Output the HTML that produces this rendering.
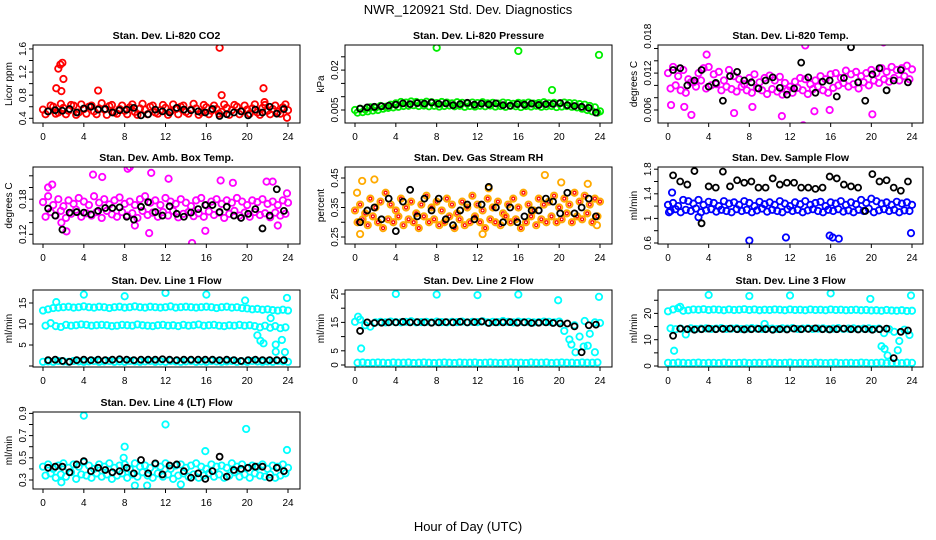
<!DOCTYPE html>
<html><head><meta charset="utf-8">
<style>
html,body{margin:0;padding:0;background:#fff;}
svg{display:block;font-family:"Liberation Sans",Arial,sans-serif;}
</style></head><body>
<svg id="c" width="936" height="540" viewBox="0 0 936 540">
<text x="468" y="14" text-anchor="middle" font-size="13">NWR_120921  Std. Dev. Diagnostics</text>
<text x="468" y="531" text-anchor="middle" font-size="13">Hour of Day (UTC)</text>
</svg>
<script>
const hoursA = [0,0.5,1,1.5,2,2.5,3,3.5,4,4.5,5,5.5,6,6.5,7,7.5,8,8.5,9,9.5,10,10.5,11,11.5,12,12.5,13,13.5,14,14.5,15,15.5,16,16.5,17,17.5,18,18.5,19,19.5,20,20.5,21,21.5,22,22.5,23,23.5,24];
const hoursB = [0.25,0.75,1.25,1.75,2.25,2.75,3.25,3.75,4.25,4.75,5.25,5.75,6.25,6.75,7.25,7.75,8.25,8.75,9.25,9.75,10.25,10.75,11.25,11.75,12.25,12.75,13.25,13.75,14.25,14.75,15.25,15.75,16.25,16.75,17.25,17.75,18.25,18.75,19.25,19.75,20.25,20.75,21.25,21.75,22.25,22.75,23.25,23.75];
const hoursK = [0.5,1.2,1.9,2.6,3.3,4,4.7,5.4,6.1,6.8,7.5,8.2,8.9,9.6,10.3,11,11.7,12.4,13.1,13.8,14.5,15.2,15.9,16.6,17.3,18,18.7,19.4,20.1,20.8,21.5,22.2,22.9,23.6];
const xTicks = [0,4,8,12,16,20,24];

const co2A=[0.55,0.52,0.6,0.5,0.58,0.53,0.62,0.5,0.56,0.6,0.52,0.57,0.55,0.61,0.5,0.56,0.53,0.59,0.51,0.57,0.55,0.6,0.5,0.54,0.58,0.52,0.56,0.6,0.51,0.55,0.57,0.5,0.59,0.53,0.56,0.51,0.58,0.54,0.6,0.52,0.55,0.57,0.5,0.58,0.53,0.56,0.51,0.59,0.54];
const co2B=[0.47,0.62,0.48,0.65,0.47,0.63,0.46,0.64,0.48,0.62,0.47,0.66,0.46,0.63,0.48,0.62,0.47,0.64,0.46,0.65,0.47,0.62,0.48,0.63,0.46,0.64,0.47,0.62,0.48,0.65,0.46,0.63,0.47,0.62,0.48,0.64,0.46,0.63,0.47,0.62,0.48,0.64,0.46,0.63,0.47,0.62,0.48,0.64];
const co2OutX=[1.3,1.5,1.7,1.9,2.0,1.8,5.4,17.3,17.5,21.6,21.7,23.9];
const co2OutY=[0.92,1.26,1.33,1.36,1.08,0.87,0.88,1.62,0.8,0.92,0.68,0.41];
const co2K=[0.52,0.54,0.53,0.56,0.5,0.57,0.6,0.55,0.56,0.5,0.54,0.55,0.58,0.45,0.47,0.55,0.52,0.5,0.58,0.55,0.54,0.52,0.5,0.56,0.44,0.47,0.5,0.52,0.45,0.55,0.5,0.6,0.48,0.56];
const co2Ticks=[0.4,0.6,0.8,1.0,1.2,1.4,1.6], co2Labels=[0.4,0.8,1.2,1.6];
const prA=[0.005,0.0055,0.0052,0.006,0.0058,0.0065,0.0062,0.007,0.0075,0.008,0.0078,0.0082,0.008,0.0077,0.0081,0.0079,0.0076,0.008,0.0078,0.0075,0.0079,0.0077,0.0074,0.0078,0.0076,0.0079,0.0075,0.0077,0.0074,0.0078,0.0076,0.0073,0.0077,0.0075,0.0078,0.0074,0.0076,0.0079,0.0075,0.0077,0.0074,0.0078,0.0076,0.0075,0.0072,0.007,0.0065,0.006,0.0045];
const prB=[0.004,0.0042,0.0045,0.0048,0.005,0.0055,0.0058,0.006,0.0062,0.0065,0.0066,0.0068,0.0065,0.0067,0.0064,0.0066,0.0063,0.0065,0.0067,0.0064,0.0066,0.0062,0.0065,0.0063,0.0066,0.0064,0.0067,0.0063,0.0065,0.0062,0.0066,0.0064,0.0061,0.0065,0.0063,0.0066,0.0062,0.0064,0.0065,0.0061,0.0063,0.0065,0.0062,0.006,0.0055,0.005,0.0045,0.004];
const prOutX=[8.0,16.0,19.3,23.9];
const prOutY=[0.0284,0.0272,0.0125,0.0257];
const prK=[0.0055,0.006,0.0062,0.0064,0.0066,0.007,0.0075,0.0072,0.0076,0.0074,0.0078,0.0073,0.0075,0.0068,0.0072,0.0077,0.007,0.0074,0.0071,0.0075,0.0068,0.0066,0.0072,0.007,0.0074,0.0069,0.0072,0.0073,0.0076,0.0068,0.0065,0.0062,0.0058,0.004];
const prTicks=[0.005,0.010,0.015,0.020,0.025], prLabels=[0.005,0.020];
const tmA=[0.012,0.013,0.0115,0.0125,0.011,0.0105,0.012,0.0128,0.013,0.0118,0.0122,0.0108,0.0125,0.0115,0.011,0.0102,0.0112,0.0118,0.0105,0.0112,0.0116,0.0108,0.0114,0.0104,0.0098,0.0106,0.0112,0.011,0.0102,0.0108,0.0115,0.011,0.0118,0.012,0.0112,0.0124,0.0118,0.0122,0.0115,0.012,0.0125,0.012,0.0128,0.0122,0.013,0.0125,0.0128,0.0132,0.0126];
const tmB=[0.0095,0.01,0.0092,0.0088,0.0105,0.0098,0.0108,0.0095,0.01,0.0102,0.0092,0.0098,0.0094,0.009,0.0098,0.0092,0.0088,0.0096,0.0092,0.0086,0.0094,0.009,0.0085,0.0092,0.0088,0.0096,0.0092,0.0086,0.0094,0.0098,0.0092,0.0088,0.0096,0.01,0.0104,0.0098,0.0102,0.0095,0.0105,0.01,0.0108,0.0104,0.011,0.0106,0.0112,0.0108,0.0115,0.011];
const tmOutX=[0.3,1.6,2.3,3.8,6.5,8.3,11.2,13.3,13.5,15.9,17.3,20.1,21.2,22.3,14.4];
const tmOutY=[0.0068,0.0065,0.0052,0.015,0.0055,0.0065,0.005,0.0035,0.0165,0.006,0.018,0.0053,0.017,0.0178,0.0058];
const tmK=[0.0125,0.0128,0.01,0.0108,0.0125,0.0098,0.0104,0.0075,0.0115,0.0122,0.0108,0.0105,0.0095,0.0108,0.0113,0.0096,0.0085,0.0095,0.0137,0.0113,0.0088,0.0106,0.0108,0.0082,0.0112,0.0162,0.0105,0.0075,0.0118,0.0128,0.0092,0.0108,0.0125,0.0105];
const tmTicks=[0.006,0.008,0.010,0.012,0.014,0.016], tmLabels=[0.006,0.012,0.018];
const abA=[0.175,0.185,0.17,0.18,0.168,0.178,0.172,0.182,0.176,0.17,0.185,0.174,0.18,0.171,0.178,0.183,0.172,0.176,0.17,0.18,0.185,0.174,0.178,0.17,0.182,0.176,0.172,0.18,0.174,0.168,0.178,0.182,0.17,0.176,0.18,0.172,0.178,0.174,0.182,0.176,0.17,0.178,0.175,0.18,0.172,0.176,0.17,0.178,0.174];
const abB=[0.15,0.158,0.152,0.16,0.148,0.155,0.162,0.15,0.156,0.152,0.158,0.148,0.16,0.154,0.15,0.158,0.152,0.156,0.148,0.16,0.153,0.157,0.15,0.158,0.152,0.16,0.149,0.155,0.158,0.151,0.156,0.15,0.159,0.153,0.157,0.148,0.155,0.16,0.152,0.157,0.15,0.158,0.153,0.156,0.149,0.157,0.152,0.155];
const abOutX=[0.5,0.9,1.8,2.3,4.9,5.8,8.3,8.5,9.0,10.4,10.6,12.0,12.3,14.6,15.9,17.4,18.6,21.9,22.5,23.0,23.9];
const abOutY=[0.2,0.205,0.14,0.125,0.222,0.218,0.232,0.235,0.135,0.122,0.225,0.245,0.215,0.105,0.126,0.212,0.208,0.21,0.21,0.135,0.19];
const abK=[0.164,0.152,0.128,0.157,0.158,0.157,0.154,0.16,0.165,0.165,0.166,0.15,0.145,0.167,0.175,0.158,0.152,0.168,0.155,0.15,0.157,0.163,0.17,0.17,0.158,0.167,0.152,0.148,0.155,0.163,0.13,0.152,0.197,0.16];
const abTicks=[0.12,0.14,0.16,0.18,0.20,0.22], abLabels=[0.12,0.18];
const rhA=[0.34,0.36,0.33,0.38,0.35,0.37,0.4,0.36,0.34,0.38,0.35,0.37,0.33,0.36,0.39,0.35,0.37,0.34,0.38,0.36,0.33,0.37,0.35,0.39,0.36,0.34,0.38,0.35,0.37,0.33,0.36,0.38,0.35,0.4,0.36,0.34,0.38,0.36,0.37,0.39,0.35,0.38,0.36,0.4,0.37,0.39,0.36,0.38,0.37];
const rhB=[0.3,0.31,0.29,0.32,0.3,0.28,0.31,0.3,0.32,0.29,0.31,0.3,0.28,0.32,0.3,0.31,0.29,0.3,0.32,0.28,0.31,0.29,0.3,0.32,0.3,0.28,0.31,0.3,0.29,0.32,0.3,0.31,0.28,0.3,0.32,0.29,0.31,0.3,0.32,0.3,0.31,0.33,0.3,0.32,0.31,0.33,0.3,0.32];
const rhOutX=[0.2,0.5,0.7,1.9,12.5,13.1,18.6,20.2,22.8,23.7];
const rhOutY=[0.4,0.26,0.44,0.445,0.26,0.415,0.46,0.435,0.43,0.29];
const rhK=[0.3,0.34,0.35,0.31,0.38,0.27,0.37,0.41,0.32,0.38,0.34,0.38,0.31,0.29,0.34,0.36,0.31,0.36,0.42,0.35,0.3,0.35,0.3,0.32,0.34,0.34,0.38,0.37,0.33,0.4,0.33,0.35,0.38,0.32];
const rhTicks=[0.25,0.30,0.35,0.40,0.45], rhLabels=[0.25,0.35,0.45];
const sfA=[1.22,1.25,1.2,1.3,1.28,1.24,1.3,1.22,1.27,1.25,1.2,1.28,1.24,1.26,1.22,1.28,1.25,1.2,1.27,1.23,1.26,1.22,1.28,1.24,1.2,1.26,1.23,1.28,1.22,1.25,1.27,1.2,1.26,1.24,1.28,1.22,1.26,1.23,1.3,1.25,1.32,1.28,1.24,1.26,1.22,1.27,1.24,1.26,1.22];
const sfB=[1.12,1.15,1.1,1.14,1.12,1.16,1.1,1.13,1.15,1.11,1.14,1.12,1.1,1.15,1.12,1.14,1.1,1.13,1.16,1.11,1.14,1.12,1.1,1.15,1.12,1.14,1.1,1.13,1.15,1.12,1.1,1.14,1.12,1.15,1.11,1.13,1.1,1.14,1.12,1.16,1.1,1.13,1.15,1.12,1.14,1.1,1.13,1.12];
const sfOutX=[0.4,8.0,11.6,15.9,16.2,16.8,23.9,0.1,3.0];
const sfOutY=[1.42,0.64,0.69,0.72,0.69,0.67,0.76,1.1,1.02];
const sfK=[1.7,1.6,1.55,1.77,0.92,1.52,1.5,1.76,1.52,1.62,1.58,1.6,1.5,1.5,1.65,1.55,1.58,1.58,1.5,1.5,1.48,1.5,1.68,1.65,1.55,1.52,1.5,1.12,1.72,1.6,1.62,1.5,1.45,1.6];
const sfTicks=[0.6,0.8,1.0,1.2,1.4,1.6,1.8], sfLabels=[0.6,1.0,1.4,1.8];
const l1A=[13.2,13.5,13.8,13.9,14,14.1,13.9,14,14.2,14,13.9,14.1,14,13.8,14,14.1,13.9,14,14.2,14,13.9,14.1,14,13.9,14,14.2,13.9,14,14.1,14,13.9,14,14.1,14,13.8,14,14.1,13.9,14,13.8,13.7,13.5,13.6,13.4,13.5,13.3,13.2,13.4,13.2];
const l1B=[9.6,10.2,9.5,9.3,9.8,9.6,9.7,9.9,9.8,9.6,9.7,9.8,9.7,9.5,9.6,9.8,9.7,9.6,9.9,9.7,9.6,9.5,9.7,9.8,9.6,9.7,9.5,9.8,9.6,9.7,9.9,9.6,9.7,9.8,9.6,9.5,9.7,9.6,9.8,9.6,9.7,9.5,9.2,9.6,9.1,9.5,9.0,9.2,9.0];
const l1C=[1,1.1,1,1.2,1.1,1,1.2,1.1,1,1.1,1.2,1,1.1,1.2,1,1.1,1,1.2,1.1,1,1.1,1.2,1,1.1,1,1.2,1.1,1,1.1,1.2,1,1.1,1,1.2,1.1,1,1.1,1.2,1,1.1,1,1.2,1.1,1,1.1,1,1.2,1.1,1];
const l1OutX=[1.3,4.0,8.0,12.0,16.0,19.8,21.0,21.3,21.6,22.3,22.8,23.4,23.7,23.9,22.8];
const l1OutY=[15.2,17,16.6,17.4,17,15.6,7.3,6,5.4,11.4,5.1,6.2,3.3,16.2,3.4];
const l1K=[1.4,1.5,1.2,1.0,1.4,1.5,1.4,1.5,1.4,1.5,1.6,1.5,1.4,1.5,1.5,1.5,1.6,1.5,1.4,1.5,1.5,1.5,1.5,1.5,1.4,1.5,1.4,1.2,1.4,1.5,1.4,1.4,1.4,1.4];
const l1Ticks=[0,5,10,15], l1Labels=[5,10,15];
const l2A=[15.2,16,14,13.5,15,15.2,15,15.3,15.1,15,15.2,15.4,15,15.1,15.2,15,15.3,15.1,15,15.2,15.1,15.3,15,15.2,15.1,15.4,15,15.2,15.1,15.5,15.2,15,15.3,15.1,15.2,15,15.1,15.3,15.2,15,15.3,12,9,14,10,15.5,11,15,14.8];
const l2C=[0.8,0.9,0.7,0.8,0.9,0.8,0.7,0.9,0.8,0.8,0.9,0.7,0.8,0.9,0.8,0.7,0.8,0.9,0.8,0.7,0.9,0.8,0.8,0.9,0.7,0.8,0.9,0.8,0.7,0.8,0.9,0.8,0.8,0.7,0.9,0.8,0.8,0.9,0.7,0.8,0.9,0.8,0.8,0.7,0.9,0.8,0.8,0.9,0.8];
const l2OutX=[0.6,4.0,8.0,12.0,16.0,19.9,21.2,21.6,22.4,22.8,23.5,23.9,0.3];
const l2OutY=[5.8,25,24.8,24.6,24.8,22.8,7.2,4.5,6.5,6.8,4.5,24,17];
const l2K=[12,15,14.8,14.9,15,15,15.2,15,15.1,15,14.9,15,15.1,15,15.2,15,15.1,15.3,14.8,15,15,15.1,14.9,15,14.8,14.9,15,14.8,14.6,14.6,13.6,4.5,14,14.2];
const l2Ticks=[0,5,10,15,20,25], l2Labels=[0,5,15,25];
const l3A=[20.8,21.5,22,21,21.2,21.5,21.4,21.6,21.3,21.5,21.4,21.2,21.5,21.3,21.4,21.6,21.3,21.5,21.2,21.4,21.3,21.5,21.4,21.2,21.5,21.3,21.4,21.2,21.5,21.3,21.4,21.2,21.5,21.3,21.4,21.2,21.3,21.4,21.2,21.3,21.1,21.2,21,21.3,21.1,21,21.2,20.9,21];
const l3B=[14.3,14,14.2,12,14.3,14.1,14.2,14.3,14.1,14.2,14.4,14.1,14.2,14.3,14.1,14.2,14.4,14.2,14.1,14.3,14.2,14.1,14.3,14.2,14.4,14.1,14.2,14.3,14.1,14.2,14.3,14.1,14.2,14.4,14.1,14.2,14.3,14.1,14.2,14.3,14.1,14.2,12.5,14,13,9.5,13.8,11.8,13.5];
const l3C=[1.2,1.1,1.3,1.2,1.1,1.2,1.3,1.1,1.2,1.2,1.1,1.3,1.2,1.1,1.2,1.3,1.1,1.2,1.2,1.1,1.3,1.2,1.1,1.2,1.3,1.1,1.2,1.2,1.1,1.3,1.2,1.1,1.2,1.3,1.1,1.2,1.2,1.1,1.3,1.2,1.1,1.2,1.3,1.1,1.2,1.2,1.1,1.3,1.2];
const l3OutX=[0.6,4.0,8.0,12.0,16.0,19.9,21.0,21.3,21.6,22.6,23.9,1.2,9.5];
const l3OutY=[5.8,27,26.6,26.8,27.6,25.5,7.5,6.5,4,6,26.8,22.5,16];
const l3K=[11.5,14.2,14,13.8,14,14.2,14,14.1,14.2,14,13.9,14,14.1,14,13.8,14,13.9,14.2,14,14.1,14.3,14,13.9,14,14.2,14,13.9,14,13.8,14,14.2,3,13,13.5];
const l3Ticks=[0,5,10,15,20,25], l3Labels=[0,10,20];
const l4A=[0.42,0.44,0.4,0.43,0.45,0.41,0.44,0.42,0.46,0.43,0.4,0.44,0.42,0.45,0.41,0.43,0.44,0.4,0.45,0.42,0.43,0.41,0.44,0.42,0.45,0.4,0.43,0.44,0.41,0.43,0.45,0.42,0.4,0.44,0.42,0.43,0.41,0.45,0.42,0.44,0.41,0.43,0.42,0.44,0.4,0.43,0.42,0.44,0.41];
const l4B=[0.34,0.36,0.32,0.35,0.33,0.37,0.31,0.35,0.34,0.32,0.36,0.33,0.35,0.31,0.34,0.36,0.32,0.35,0.33,0.37,0.34,0.32,0.36,0.33,0.35,0.31,0.34,0.36,0.33,0.35,0.32,0.34,0.36,0.33,0.35,0.32,0.34,0.37,0.33,0.35,0.32,0.36,0.34,0.33,0.35,0.32,0.34,0.36];
const l4OutX=[4.0,12.0,19.9,8.0,15.9,23.9,9.0,10.2,1.8,13.5,7.9];
const l4OutY=[0.88,0.8,0.76,0.6,0.56,0.57,0.25,0.25,0.28,0.26,0.5];
const l4K=[0.41,0.42,0.42,0.37,0.44,0.47,0.38,0.41,0.39,0.37,0.38,0.41,0.36,0.48,0.36,0.45,0.35,0.43,0.44,0.38,0.32,0.36,0.31,0.38,0.51,0.33,0.39,0.4,0.41,0.42,0.42,0.32,0.41,0.38];
const l4Ticks=[0.3,0.4,0.5,0.6,0.7,0.8,0.9], l4Labels=[0.3,0.5,0.7,0.9];

const svg=document.getElementById('c');
const NS='http://www.w3.org/2000/svg';
function mk(tag,attrs,parent){const e=document.createElementNS(NS,tag);for(const k in attrs)e.setAttribute(k,attrs[k]);(parent||svg).appendChild(e);return e;}
const cols=[{l:33,r:300,x0:43,x24:288},{l:345,r:612,x0:355,x24:600},{l:658,r:923,x0:668,x24:912}];
const rows=[{t:45,b:123},{t:167,b:244},{t:290,b:367},{t:412,b:489}];
const panels=[
 {name:'co2',title:'Stan. Dev. Li-820 CO2',ylab:'Licor ppm',c:0,r:0,v1:0.4,p1:118.3,k:57.8,col:'#ff0000',series:[co2A,co2B],out:[co2OutX,co2OutY],blk:co2K,ticks:co2Ticks,labels:co2Labels},
 {name:'pressure',title:'Stan. Dev. Li-820 Pressure',ylab:'kPa',c:1,r:0,v1:0.005,p1:110,k:2660,col:'#00ee00',series:[prA,prB],out:[prOutX,prOutY],blk:prK,ticks:prTicks,labels:prLabels},
 {name:'temp',title:'Stan. Dev. Li-820 Temp.',ylab:'degrees C',c:2,r:0,v1:0.006,p1:110,k:6150,col:'#ff00ff',series:[tmA,tmB],out:[tmOutX,tmOutY],blk:tmK,ticks:tmTicks,labels:tmLabels},
 {name:'amb-box-temp',title:'Stan. Dev. Amb. Box Temp.',ylab:'degrees C',c:0,r:1,v1:0.12,p1:234.3,k:585,col:'#ff00ff',series:[abA,abB],out:[abOutX,abOutY],blk:abK,ticks:abTicks,labels:abLabels},
 {name:'gas-rh',title:'Stan. Dev. Gas Stream RH',ylab:'percent',c:1,r:1,v1:0.25,p1:237,k:295,col:'#ffaa00',series:[rhA,rhB],out:[rhOutX,rhOutY],blk:rhK,ticks:rhTicks,labels:rhLabels},
 {name:'sample-flow',title:'Stan. Dev. Sample Flow',ylab:'ml/min',c:2,r:1,v1:0.6,p1:243,k:61.5,col:'#0000ff',series:[sfA,sfB],out:[sfOutX,sfOutY],blk:sfK,ticks:sfTicks,labels:sfLabels},
 {name:'line1-flow',title:'Stan. Dev. Line 1 Flow',ylab:'ml/min',c:0,r:2,v1:0,p1:366,k:4.2,col:'#00ffff',series:[l1A,l1B,l1C],out:[l1OutX,l1OutY],blk:l1K,ticks:l1Ticks,labels:l1Labels},
 {name:'line2-flow',title:'Stan. Dev. Line 2 Flow',ylab:'ml/min',c:1,r:2,v1:0,p1:365,k:2.84,col:'#00ffff',series:[l2A,l2C],out:[l2OutX,l2OutY],blk:l2K,ticks:l2Ticks,labels:l2Labels},
 {name:'line3-flow',title:'Stan. Dev. Line 3 Flow',ylab:'ml/min',c:2,r:2,v1:0,p1:366,k:2.63,col:'#00ffff',series:[l3A,l3B,l3C],out:[l3OutX,l3OutY],blk:l3K,ticks:l3Ticks,labels:l3Labels},
 {name:'line4-flow',title:'Stan. Dev. Line 4 (LT) Flow',ylab:'ml/min',c:0,r:3,v1:0.3,p1:480,k:111,col:'#00ffff',series:[l4A,l4B],out:[l4OutX,l4OutY],blk:l4K,ticks:l4Ticks,labels:l4Labels}
];
function fmt(v){return String(+v.toFixed(4));}
panels.forEach(p=>{
  const C=cols[p.c],R=rows[p.r];
  const g=mk('g',{});
  
  
  const xs=h=>C.x0+(h/24)*(C.x24-C.x0);
  const ys=v=>p.p1-(v-p.v1)*p.k;
  const t=mk('text',{x:(C.l+C.r)/2,y:R.t-6,'text-anchor':'middle','font-size':10.5,'font-weight':'bold'},g);
  t.textContent=p.title;
  
  
  const yl=mk('text',{transform:`translate(${C.l-21},${(R.t+R.b)/2}) rotate(-90)`,'text-anchor':'middle','font-size':10},g);
  yl.textContent=p.ylab;
  
  
  const cid='clip'+p.name;
  const cp=mk('clipPath',{id:cid},g);mk('rect',{x:C.l,y:R.t,width:C.r-C.l,height:R.b-R.t},cp);
  const pts=mk('g',{'clip-path':`url(#${cid})`,fill:'none','stroke-width':1.8},g);
  
  
  p.series.forEach((s,si)=>{
    const hh=si===1?hoursB:hoursA;
    s.forEach((v,i)=>{ if(i>=hh.length)return;
      const c=mk('circle',{cx:xs(hh[i]),cy:ys(v),r:3.2,stroke:p.col},pts);
      
      
      if(p.name==='gas-rh'){mk('circle',{cx:xs(hh[i]),cy:ys(v),r:1.5,stroke:'#ff0000','stroke-width':1.2},pts);}
    });
  });
  p.out[0].forEach((h,i)=>{
    const c=mk('circle',{cx:xs(h),cy:ys(p.out[1][i]),r:3.2,stroke:p.col},pts);
    
    
  });
  p.blk.forEach((v,i)=>{
    const c=mk('circle',{cx:xs(hoursK[i]),cy:ys(v),r:3,stroke:'#000'},pts);
    
    
  });
  mk('rect',{x:C.l,y:R.t,width:C.r-C.l,height:R.b-R.t,fill:'none',stroke:'#000','stroke-width':1},g);
  xTicks.forEach(h=>{
    mk('line',{x1:xs(h),x2:xs(h),y1:R.b,y2:R.b+4,stroke:'#000'},g);
    const tl=mk('text',{x:xs(h),y:R.b+17,'text-anchor':'middle','font-size':10},g);
    tl.textContent=h;
    
    
  });
  const yt=p.ticks.map(ys);
  yt.forEach(y=>mk('line',{x1:C.l-4,x2:C.l,y1:y,y2:y,stroke:'#000'},g));
  p.labels.forEach(v=>{
    const tl=mk('text',{transform:`translate(${C.l-7},${ys(v)}) rotate(-90)`,'text-anchor':'middle','font-size':10},g);
    tl.textContent=fmt(v);
    
    
  });
});
</script>
</body></html>
